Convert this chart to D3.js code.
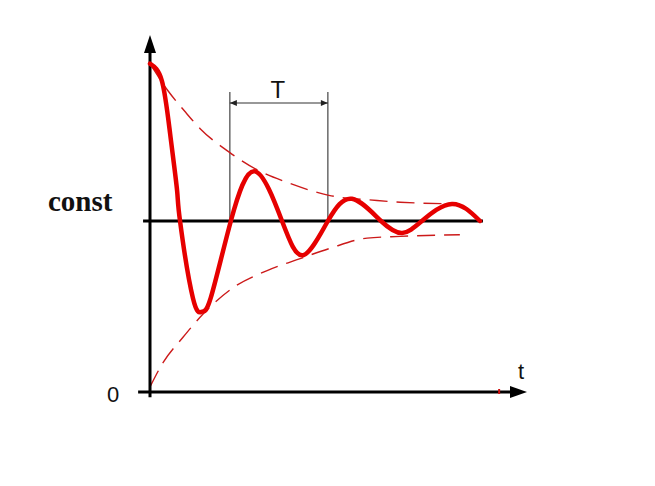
<!DOCTYPE html>
<html>
<head>
<meta charset="utf-8">
<script src="https://cdn.jsdelivr.net/npm/d3@7"></script>
<style>
html,body{margin:0;padding:0;background:#fff;}
svg{display:block;}
</style>
</head>
<body>
<svg id="chart" width="655" height="486"></svg>
<script>
// ---- data (t in arbitrary time units, y relative to const = 1) ----
const responseT = [0, 0.36, 0.61, 0.82, 0.91, 1.30, 1.58, 1.84, 2.45, 3.18, 4.00, 4.64, 5.39, 6.12, 7.00, 7.64, 8.24, 9.15, 10.0];
const responseY = [1.92, 1.82, 1.51, 1.18, 1.00, 0.55, 0.47, 0.55, 1.00, 1.29, 1.00, 0.80, 1.00, 1.13, 1.00, 0.93, 1.00, 1.10, 1.00];
const upperT = [0, 0.55, 1.06, 1.52, 2.42, 3.24, 4.24, 5.42, 6.88, 7.58, 9.39];
const upperY = [1.92, 1.76, 1.64, 1.54, 1.40, 1.30, 1.22, 1.15, 1.12, 1.11, 1.10];
const lowerT = [0, 0.39, 1.0, 1.58, 2.52, 3.55, 4.55, 5.45, 6.58, 7.58, 9.39];
const lowerY = [0.03, 0.17, 0.32, 0.45, 0.61, 0.71, 0.78, 0.84, 0.90, 0.91, 0.92];
const constLevel = 1;
const periodStart = 2.42, periodEnd = 5.39;
const labels = {y: "const", origin: "0", x: "t", period: "T"};

// ---- scales ----
const svg = d3.select("#chart");
const x = d3.scaleLinear().domain([0, 10]).range([150, 480]);
const y = d3.scaleLinear().domain([0, 2]).range([392, 50]);

const zip = (a, b) => a.map((v, i) => [v, b[i]]);
const envLine = d3.line().x(d => x(d[0])).y(d => y(d[1])).curve(d3.curveMonotoneX);
const respLine = d3.line().x(d => x(d[0])).y(d => y(d[1])).curve(d3.curveNatural);

// ---- T bracket ----
const bTop = y(1.754), bArrow = y(1.69);
[periodStart, periodEnd].forEach(t => {
  svg.append("line").attr("x1", x(t)).attr("x2", x(t)).attr("y1", bTop).attr("y2", y(constLevel))
    .attr("stroke", "#444").attr("stroke-width", 1.2);
});
svg.append("line").attr("x1", x(periodStart)).attr("x2", x(periodEnd)).attr("y1", bArrow).attr("y2", bArrow)
  .attr("stroke", "#333").attr("stroke-width", 1.2);
svg.append("path").attr("d", `M${x(periodStart)},${bArrow}l7,-3l0,6z`).attr("fill", "#222");
svg.append("path").attr("d", `M${x(periodEnd)},${bArrow}l-7,-3l0,6z`).attr("fill", "#222");
svg.append("text").attr("x", (x(periodStart) + x(periodEnd)) / 2 - 1).attr("y", 98)
  .attr("text-anchor", "middle").attr("font-family", "Liberation Sans, Arial, sans-serif")
  .attr("font-size", 24).attr("fill", "#111").text(labels.period);

// ---- envelopes ----
[zip(upperT, upperY), zip(lowerT, lowerY)].forEach(pts => {
  svg.append("path").attr("d", envLine(pts)).attr("fill", "none")
    .attr("stroke", "#cc1a1a").attr("stroke-width", 1.4).attr("stroke-dasharray", "18,9");
});

// ---- const line ----
svg.append("line").attr("x1", x(-0.21)).attr("x2", x(10.09)).attr("y1", y(constLevel)).attr("y2", y(constLevel))
  .attr("stroke", "#000").attr("stroke-width", 3);

// ---- axes ----
svg.append("line").attr("x1", x(0)).attr("x2", x(0)).attr("y1", y(-0.03)).attr("y2", 50)
  .attr("stroke", "#000").attr("stroke-width", 3);
svg.append("path").attr("d", `M${x(0)},35L${x(0) - 6},53L${x(0) + 6},53Z`).attr("fill", "#000");
svg.append("line").attr("x1", x(-0.36)).attr("x2", 512).attr("y1", y(0)).attr("y2", y(0))
  .attr("stroke", "#000").attr("stroke-width", 3);
svg.append("path").attr("d", `M527,${y(0)}L510,${y(0) - 6}L510,${y(0) + 6}Z`).attr("fill", "#000");
svg.append("line").attr("x1", x(10.58)).attr("x2", x(10.58)).attr("y1", y(0) - 3).attr("y2", y(0) + 2)
  .attr("stroke", "#d01010").attr("stroke-width", 2);

// ---- response curve ----
svg.append("path").attr("d", respLine(zip(responseT, responseY))).attr("fill", "none")
  .attr("stroke", "#e60000").attr("stroke-width", 4.5).attr("stroke-linecap", "round").attr("stroke-linejoin", "round");

// ---- labels ----
svg.append("text").attr("x", 48).attr("y", 211).attr("font-family", "Liberation Serif, Times New Roman, serif")
  .attr("font-weight", "bold").attr("font-size", 29).attr("fill", "#111").text(labels.y);
svg.append("text").attr("x", 113).attr("y", 402).attr("text-anchor", "middle")
  .attr("font-family", "Liberation Sans, Arial, sans-serif").attr("font-size", 22).attr("fill", "#111").text(labels.origin);
svg.append("text").attr("x", 521).attr("y", 379).attr("text-anchor", "middle")
  .attr("font-family", "Liberation Sans, Arial, sans-serif").attr("font-size", 22).attr("fill", "#111").text(labels.x);
</script>
</body>
</html>
